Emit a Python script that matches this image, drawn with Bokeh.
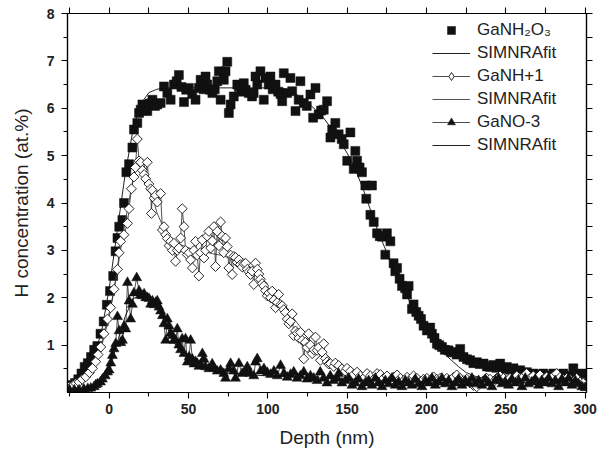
import math
from bokeh.plotting import figure
from bokeh.models import (Range1d, LinearAxis, FixedTicker, Legend, LegendItem)
from bokeh.embed import file_html
from bokeh.resources import INLINE

# ---------------- data ----------------
# GaNH2O3 (filled squares)
sq_x = [-25.5,-23.5,-21.5,-19.5,-17.5,-15.5,-13.5,-11.5,-9.5,-7.5,-5.5,-3.5,-1.5,0.5,2.5,4.0,5.2,6.3,8.3,9.3,
        10.8,12.5,14.6,15.6,17.7,18.8,19.8,20.9,22.5,24.0,25.5,27.2,28.8,30.3,32.4,34.5,36.6,38.7,40.8,42.5,
        43.9,45.5,47.1,48.5,50.2,52.3,54.4,56.5,57.6,59.5,60.7,61.8,63.5,65.0,66.5,68.1,69.1,70.2,72.2,73.3,
        74.4,75.4,76.5,78.5,80.7,81.7,83.5,84.8,86.0,88.0,90.0,91.0,92.2,93.3,95.3,97.4,98.5,100.5,101.6,103.0,
        104.8,106.5,108.0,109.0,110.0,112.1,114.2,115.3,117.4,119.4,120.5,122.6,124.5,126.8,128.5,130.0,132.0,133.5,135.2,137.3,
        139.4,140.5,142.5,144.6,146.5,147.8,150.0,152.0,154.1,155.1,156.2,157.8,159.3,161.4,162.0,164.6,165.6,166.7,168.8,170.5,
        172.0,174.0,175.0,177.2,179.2,180.3,181.4,183.0,184.5,186.5,187.7,188.7,190.8,191.8,193.5,195.0,196.5,198.1,200.2,202.3,
        203.4,205.0,206.5,208.0,209.7,211.5,213.8,215.5,217.0,219.0,221.2,223.3,225.5,227.5,229.5,231.7,233.5,235.9,238.0,240.0,
        242.0,244.0,246.4,248.5,250.6,252.5,254.8,257.0,259.0,261.0,263.2,265.3,267.3,269.5,271.5,273.6,275.5,277.5,279.9,282.0,
        284.0,286.2,288.5,290.5,292.5,294.5,296.5,297.8,299.5]
sq_y = [0.12,0.16,0.20,0.28,0.40,0.54,0.62,0.75,0.90,0.98,1.24,1.50,1.85,2.14,2.46,2.98,3.26,3.50,3.64,4.00,
        4.65,4.82,5.17,5.55,5.69,5.90,5.97,6.08,5.95,5.94,6.10,6.18,6.05,6.08,6.11,6.46,6.32,6.18,6.50,6.57,
        6.70,6.45,6.13,6.39,6.43,6.30,6.18,6.43,6.60,6.40,6.67,6.50,6.39,6.32,6.40,6.57,6.78,6.18,6.60,6.78,
        6.98,5.90,6.08,6.25,6.50,6.45,6.35,6.53,6.39,6.32,6.25,6.32,6.67,6.50,6.78,6.18,6.64,6.50,6.67,6.40,
        6.50,6.35,6.30,6.15,6.74,6.32,6.64,6.36,5.94,6.18,6.57,6.11,6.05,6.29,5.80,6.43,5.87,5.95,5.97,6.15,
        5.38,5.55,5.69,5.45,5.35,5.24,4.89,5.49,4.72,5.10,4.89,4.75,4.65,4.37,4.09,3.75,4.37,3.60,3.36,3.30,
        3.29,2.91,3.36,3.19,2.73,2.56,2.63,2.40,2.25,2.20,2.07,2.25,1.76,1.86,1.70,1.62,1.55,1.41,1.31,1.37,
        1.24,1.15,1.03,1.00,0.96,0.90,0.89,0.85,0.85,0.80,0.92,0.75,0.70,0.68,0.62,0.64,0.60,0.61,0.55,0.54,
        0.58,0.52,0.61,0.50,0.54,0.48,0.51,0.45,0.47,0.42,0.43,0.38,0.40,0.35,0.38,0.40,0.33,0.36,0.40,0.30,
        0.35,0.40,0.30,0.35,0.51,0.30,0.35,0.40,0.25]

# SIMNRA fit for GaNH2O3
fit1_x = [-25,-20,-15,-10,-5,0,5,10,15,20,25,30,35,40,50,60,70,80,90,100,110,115,120,125,130,135,140,145,150,155,
          160,165,170,175,180,185,190,195,200,205,210,215,220,225,230,235,240,250,260,270,280,290,300]
fit1_y = [0.10,0.20,0.40,0.75,1.25,2.20,3.40,4.60,5.55,6.10,6.33,6.40,6.43,6.43,6.43,6.43,6.43,6.43,6.43,6.43,6.42,6.35,6.25,6.12,5.97,5.80,5.57,5.32,5.05,4.72,
          4.30,3.82,3.35,2.95,2.55,2.20,1.88,1.58,1.32,1.05,0.86,0.70,0.55,0.42,0.35,0.30,0.26,0.23,0.21,0.20,0.20,0.20,0.20]

# GaNH+1 (open diamonds, connected)
di_x = [-25.3,-23.0,-21.0,-19.0,-17.0,-14.8,-12.5,-10.6,-8.5,-7.0,-5.3,-3.3,-1.1,0.9,3.0,5.2,6.2,7.2,9.3,11.5,
        12.5,14.0,15.6,16.5,17.7,18.8,19.8,20.9,22.0,23.0,24.0,25.0,26.1,26.6,27.2,28.3,29.3,30.3,32.4,33.5,
        34.5,35.6,36.6,37.7,38.7,39.8,40.8,41.8,42.9,43.9,45.0,46.0,47.1,48.1,49.2,50.3,51.3,52.4,53.4,54.4,
        55.5,56.5,57.5,58.6,59.7,60.7,61.8,62.8,63.9,65.0,66.0,67.0,68.1,69.1,70.2,71.2,72.2,73.3,74.4,75.4,
        76.5,77.5,78.5,79.6,80.6,81.7,82.7,83.8,84.8,85.9,87.0,88.0,89.0,90.1,91.1,92.2,93.3,94.3,95.3,96.4,
        97.4,98.5,99.6,100.6,101.7,102.7,103.8,104.8,105.9,106.8,108.0,109.0,110.0,111.1,112.2,113.2,114.2,115.3,116.3,117.4,
        118.5,119.5,120.5,121.6,122.6,123.6,124.7,125.7,126.8,127.9,129.0,130.0,131.0,132.1,133.1,134.2,135.2,136.3,137.3,138.4,
        139.4,141.5,142.5,144.6,146.7,148.8,149.9,152.0,154.1,156.2,158.3,160.4,162.5,164.6,166.7,168.8,170.9,173.0,175.1,177.2,
        179.3,181.4,183.5,185.6,187.7,189.8,191.8,193.9,196.0,198.1,200.2,202.3,204.4,206.5,208.6,210.7,212.8,214.9,217.0,219.0,
        221.1,223.2,225.3,227.4,229.5,231.6,233.7,235.8,237.9,240.0,242.1,244.2,246.3,248.4,250.5,252.6,254.7,256.8,258.9,261.0,
        263.1,265.2,267.3,269.4,271.5,273.6,275.7,277.8,279.9,282.0,284.1,286.2,288.3,290.4,292.5,294.6,296.7,298.8]
di_y = [0.12,0.15,0.19,0.22,0.28,0.33,0.42,0.51,0.65,0.80,0.96,1.24,1.55,1.79,2.18,2.60,2.95,3.19,3.33,3.57,
        3.88,4.30,4.55,4.75,5.35,4.89,4.86,4.69,4.60,4.51,4.86,4.40,4.30,3.78,4.27,4.10,4.16,4.02,4.20,3.43,
        3.50,3.33,3.25,3.10,3.19,3.00,3.15,2.77,3.00,3.05,3.26,3.88,3.50,3.00,2.91,2.95,2.80,2.63,3.00,3.19,
        2.90,2.46,2.95,3.22,2.84,3.00,3.30,3.40,3.05,3.20,3.50,2.66,3.40,3.10,3.60,3.30,2.95,3.26,3.08,2.63,
        2.90,2.49,2.87,2.85,2.75,2.80,2.70,2.65,2.72,2.73,2.60,2.55,2.49,2.56,2.28,2.73,2.60,2.50,2.39,2.30,
        2.25,2.15,2.04,2.10,2.00,2.14,1.95,1.79,1.90,2.07,1.85,1.83,1.75,1.69,1.55,1.45,1.50,1.66,1.20,1.30,
        1.25,1.15,1.27,1.10,0.71,1.06,0.95,1.24,1.00,0.82,0.90,1.17,0.89,0.95,0.68,0.85,1.03,0.72,0.65,0.60,
        0.61,0.55,0.62,0.57,0.50,0.45,0.51,0.45,0.38,0.43,0.35,0.30,0.40,0.35,0.28,0.40,0.38,0.30,0.35,0.25,
        0.33,0.37,0.30,0.25,0.32,0.28,0.35,0.30,0.22,0.28,0.30,0.25,0.33,0.28,0.30,0.22,0.30,0.25,0.32,0.37,
        0.30,0.25,0.28,0.20,0.15,0.12,0.20,0.25,0.30,0.28,0.22,0.30,0.35,0.30,0.25,0.30,0.28,0.35,0.30,0.33,
        0.40,0.30,0.35,0.30,0.37,0.28,0.33,0.30,0.35,0.40,0.32,0.28,0.30,0.28,0.25,0.30,0.22,0.20]

# SIMNRA fit for GaNH+1
fit2_x = [-25,-20,-15,-10,-5,0,5,10,15,18,20,22,25,30,35,40,45,50,55,60,65,70,75,80,85,90,95,100,105,110,
          115,120,125,130,135,140,145,150,155,160,170,180,200,220,240,260,280,300]
fit2_y = [0.10,0.15,0.30,0.55,0.95,1.60,2.55,3.60,4.50,4.88,4.95,4.80,4.40,3.80,3.42,3.22,3.12,3.05,3.00,2.97,2.93,2.90,2.85,2.80,2.75,2.62,2.42,2.22,2.02,1.85,
          1.62,1.40,1.16,0.95,0.76,0.60,0.50,0.44,0.40,0.37,0.35,0.34,0.33,0.32,0.31,0.30,0.30,0.30]

# GaNO-3 (filled triangles, connected)
tr_x = [-25.0,-22.0,-19.0,-16.0,-13.5,-11.6,-9.5,-8.5,-7.4,-5.5,-4.3,-2.5,-1.1,-0.1,1.0,2.0,3.0,4.1,5.2,6.2,
        7.3,8.3,9.4,10.4,11.5,12.5,13.5,14.6,15.6,17.3,18.8,19.8,20.9,22.0,23.0,24.0,25.1,26.1,27.2,28.2,
        29.3,30.3,31.4,32.4,33.5,34.5,35.6,36.6,37.7,38.7,39.8,40.8,41.8,42.9,43.9,45.0,46.0,47.1,48.1,49.2,
        50.3,51.3,52.4,53.4,54.4,55.5,56.5,57.6,58.7,59.7,60.7,62.8,64.9,66.0,68.1,70.2,72.2,73.3,75.4,76.5,
        78.5,79.6,81.7,83.8,85.9,87.0,89.0,91.1,92.2,93.3,95.4,97.5,99.6,101.7,103.8,105.9,108.0,110.1,112.2,114.3,
        116.3,118.4,120.5,122.6,124.7,126.8,128.9,131.0,133.0,135.1,137.2,139.3,141.4,143.5,144.6,146.7,148.8,150.9,153.0,155.1,
        157.2,159.3,161.4,163.5,165.6,167.7,169.8,171.9,174.0,176.1,178.2,180.3,182.4,184.5,186.6,188.7,190.8,192.9,195.0,197.1,
        199.2,201.3,203.4,205.5,207.6,209.7,211.8,213.9,216.0,218.1,220.2,222.3,224.4,226.5,228.6,230.7,232.8,234.9,237.0,239.1,
        241.2,243.3,245.4,247.5,249.6,251.7,253.8,255.9,258.0,260.1,262.2,264.3,266.4,268.5,270.6,272.7,274.8,276.9,279.0,281.1,
        283.2,285.3,287.4,289.5,291.6,293.7,295.8,297.9,300.0]
tr_y = [0.05,0.05,0.05,0.07,0.08,0.09,0.12,0.16,0.18,0.22,0.28,0.35,0.43,0.47,0.62,0.78,0.92,1.03,1.60,1.30,
        1.05,1.10,1.40,1.34,2.32,1.93,1.55,1.86,2.10,2.42,2.14,2.05,2.04,2.08,2.00,2.00,1.98,1.86,1.93,1.85,
        1.90,1.93,1.80,1.72,1.62,1.45,1.10,1.55,1.40,1.25,1.20,1.10,1.10,1.34,1.00,0.90,1.13,0.82,1.13,0.64,
        0.75,1.10,0.70,0.60,0.65,0.61,0.55,0.60,0.82,0.70,0.54,0.50,0.60,0.51,0.45,0.47,0.40,0.30,0.50,0.61,
        0.45,0.30,0.61,0.40,0.45,0.54,0.40,0.35,0.64,0.71,0.45,0.50,0.42,0.38,0.45,0.35,0.57,0.40,0.32,0.38,
        0.43,0.30,0.35,0.43,0.28,0.35,0.30,0.25,0.43,0.30,0.20,0.35,0.25,0.30,0.40,0.20,0.25,0.30,0.15,0.20,
        0.28,0.12,0.20,0.25,0.15,0.30,0.20,0.12,0.25,0.18,0.30,0.15,0.22,0.12,0.25,0.20,0.15,0.28,0.18,0.12,
        0.25,0.20,0.30,0.15,0.22,0.30,0.18,0.25,0.12,0.20,0.28,0.15,0.25,0.20,0.30,0.18,0.25,0.15,0.28,0.20,
        0.12,0.25,0.30,0.18,0.22,0.15,0.28,0.20,0.25,0.12,0.30,0.18,0.22,0.28,0.15,0.25,0.20,0.30,0.18,0.25,
        0.12,0.28,0.20,0.30,0.15,0.25,0.18,0.12,0.10]

# SIMNRA fit for GaNO-3
fit3_x = [-25,-20,-15,-10,-5,0,5,10,15,20,25,30,35,40,45,50,55,60,70,80,100,125,150,175,200,250,300]
fit3_y = [0.05,0.06,0.08,0.12,0.22,0.42,1.05,1.60,1.98,2.05,1.98,1.85,1.50,1.10,0.84,0.68,0.58,0.50,0.43,0.39,0.35,0.32,0.28,0.24,0.21,0.20,0.20]

x_major = [0, 50, 100, 150, 200, 250, 300]
x_minor = [-25, 25, 75, 125, 175, 225, 275]
y_major = [1, 2, 3, 4, 5, 6, 7, 8]
y_minor = [0.5, 1.5, 2.5, 3.5, 4.5, 5.5, 6.5, 7.5]

# ---------------- figure ----------------
FONT = "Liberation Sans"
p = figure(width=602, height=461, frame_width=519, frame_height=379,
           min_border_left=67, min_border_right=16, min_border_top=13, min_border_bottom=69,
           x_range=Range1d(-26.3, 300.8), y_range=Range1d(0, 8),
           output_backend="svg", toolbar_location=None, x_axis_location=None, y_axis_location=None)
p.xgrid.visible = False
p.ygrid.visible = False
p.outline_line_color = "black"
p.outline_line_width = 1.2
p.background_fill_color = "white"
p.border_fill_color = "white"

def make_axis(cls_kw, ticks, minor, labels=True):
    ax = LinearAxis(ticker=FixedTicker(ticks=ticks, minor_ticks=minor), **cls_kw)
    ax.axis_line_color = "black"
    ax.axis_line_width = 1.2
    ax.major_tick_line_color = "black"
    ax.minor_tick_line_color = "black"
    ax.major_tick_in = 0
    ax.major_tick_out = 6
    ax.minor_tick_in = 0
    ax.minor_tick_out = 4
    ax.major_tick_line_width = 1.1
    ax.minor_tick_line_width = 1.1
    if labels:
        ax.major_label_text_font = FONT
        ax.major_label_text_font_style = "bold"
        ax.major_label_text_font_size = "14px"
        ax.major_label_text_color = "#222222"
        ax.axis_label_text_font = FONT
        ax.axis_label_text_font_style = "normal"
        ax.axis_label_text_font_size = "19px"
        ax.axis_label_text_color = "#222222"
    else:
        ax.major_label_text_font_size = "0px"
        ax.major_label_text_color = None
    return ax

xb = make_axis(dict(axis_label="Depth (nm)"), x_major, x_minor)
xb.major_label_standoff = 5
xb.axis_label_standoff = 10
p.add_layout(xb, "below")
yl = make_axis(dict(axis_label="H concentration (at.%)"), y_major, y_minor)
yl.major_label_standoff = 7
yl.axis_label_standoff = 12
p.add_layout(yl, "left")
xt = make_axis({}, x_major + x_minor, [], labels=False)
p.add_layout(xt, "above")
yr = make_axis({}, y_major + y_minor, [], labels=False)
p.add_layout(yr, "right")

# fits behind markers
f1 = p.line(fit1_x, fit1_y, line_color="#222222", line_width=1)
s1 = p.scatter(sq_x, sq_y, marker="square", size=9, fill_color="#111111", line_color="#111111", line_width=0.5)

f2 = p.line(fit2_x, fit2_y, line_color="#555555", line_width=1)
l2 = p.line(di_x, di_y, line_color="#222222", line_width=0.8)
s2 = p.scatter(di_x, di_y, marker="square", angle=math.pi / 4, size=7, fill_color="white",
               line_color="#111111", line_width=0.9)
# legend-only swatch for the diamond (no data, draws nothing in the plot)
s2_leg = p.scatter([float("nan")], [float("nan")], marker="diamond", size=11, fill_color="white",
                   line_color="#111111", line_width=0.9)

f3 = p.line(fit3_x, fit3_y, line_color="#222222", line_width=1)
l3 = p.line(tr_x, tr_y, line_color="#222222", line_width=0.8)
s3 = p.scatter(tr_x, tr_y, marker="triangle", size=10, fill_color="#111111", line_color="#111111", line_width=0.5)

legend = Legend(items=[
    LegendItem(label="GaNH\u2082O\u2083", renderers=[s1]),
    LegendItem(label="SIMNRAfit", renderers=[f1]),
    LegendItem(label="GaNH+1", renderers=[l2, s2_leg]),
    LegendItem(label="SIMNRAfit", renderers=[f2]),
    LegendItem(label="GaNO-3", renderers=[l3, s3]),
    LegendItem(label="SIMNRAfit", renderers=[f3]),
], location=(365, 237))
legend.border_line_color = None
legend.background_fill_alpha = 0
legend.label_text_font = FONT
legend.label_text_font_size = "17px"
legend.label_text_color = "#222222"
legend.glyph_width = 38
legend.glyph_height = 20
legend.label_height = 20
legend.spacing = 3
legend.padding = 5
legend.label_standoff = 7
legend.margin = 0
p.add_layout(legend)

open("out.html", "w").write(file_html(p, INLINE))
